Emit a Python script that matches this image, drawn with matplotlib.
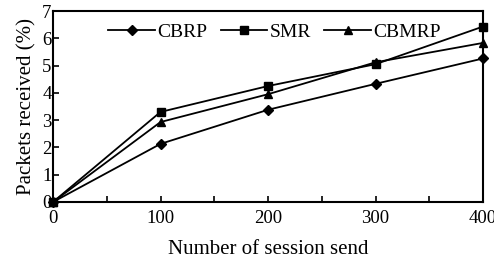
import matplotlib
matplotlib.use("Agg")
import matplotlib.pyplot as plt
from matplotlib.ticker import MultipleLocator

sessions = [0, 100, 200, 300, 400]
cbrp = [0, 2.13, 3.38, 4.33, 5.26]
smr = [0, 3.30, 4.25, 5.05, 6.43]
cbmrp = [0, 2.93, 3.95, 5.12, 5.83]
x_ticks = [0, 100, 200, 300, 400]
y_ticks = [0, 1, 2, 3, 4, 5, 6, 7]

plt.rcParams['font.family'] = ['Liberation Serif', 'DejaVu Serif']
fig = plt.figure(figsize=(4.94, 2.64), dpi=100)
ax = fig.add_axes([53/494, 1 - 202/264, (483-53)/494, (202-11)/264])

ax.plot(sessions, cbrp, color='black', lw=1.3, marker='D', ms=5, label='CBRP', clip_on=False, zorder=3)
ax.plot(sessions, smr, color='black', lw=1.3, marker='s', ms=6, label='SMR', clip_on=False, zorder=3)
ax.plot(sessions, cbmrp, color='black', lw=1.3, marker='^', ms=6, label='CBMRP', clip_on=False, zorder=3)

ax.set_xlim(0, 400)
ax.set_ylim(0, 7)
ax.set_xticks(x_ticks)
ax.set_yticks(y_ticks)
ax.xaxis.set_minor_locator(MultipleLocator(50))
ax.tick_params(axis='both', which='both', direction='in', length=4, width=1.2, labelsize=13.5)
ax.tick_params(axis='y', pad=1)
ax.tick_params(axis='x', pad=6)
for s in ax.spines.values():
    s.set_linewidth(1.5)

ax.set_xlabel('Number of session send', fontsize=15, labelpad=9)
ax.set_ylabel('Packets received (%)', fontsize=15, labelpad=4)

ax.legend(loc='upper center', bbox_to_anchor=(0.515, 0.975), ncol=3, frameon=False,
          fontsize=14, handlelength=2.4, columnspacing=0.7, handletextpad=0.1, borderaxespad=0)

fig.savefig('out.png', dpi=100)
